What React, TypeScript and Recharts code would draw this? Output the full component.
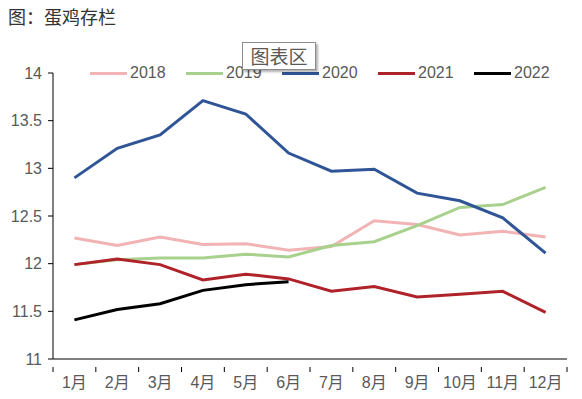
import * as React from "react";
import { LineChart, Line, XAxis, YAxis } from "recharts";

const months = ["1月", "2月", "3月", "4月", "5月", "6月", "7月", "8月", "9月", "10月", "11月", "12月"];
const y2018 = [12.27, 12.19, 12.28, 12.2, 12.21, 12.14, 12.18, 12.45, 12.41, 12.3, 12.34, 12.28];
const y2019 = [11.99, 12.04, 12.06, 12.06, 12.1, 12.07, 12.19, 12.23, 12.4, 12.59, 12.62, 12.8];
const y2020 = [12.9, 13.21, 13.35, 13.71, 13.57, 13.16, 12.97, 12.99, 12.74, 12.66, 12.48, 12.11];
const y2021 = [11.99, 12.05, 11.99, 11.83, 11.89, 11.84, 11.71, 11.76, 11.65, 11.68, 11.71, 11.49];
const y2022 = [11.41, 11.52, 11.58, 11.72, 11.78, 11.81];
const yTicks = [11, 11.5, 12, 12.5, 13, 13.5, 14];

const series = [
  { key: "2018", values: y2018, color: "#F2B3B5" },
  { key: "2019", values: y2019, color: "#A9D18E" },
  { key: "2020", values: y2020, color: "#2F5597" },
  { key: "2021", values: y2021, color: "#B0222A" },
  { key: "2022", values: y2022, color: "#000000" },
];

const data = months.map((m, i) => {
  const row: Record<string, string | number | undefined> = { month: m };
  series.forEach((s) => {
    row[s.key] = s.values[i];
  });
  return row;
});

const W = 582;
const H = 399;
const MARGIN = { top: 73, right: 15, bottom: 0, left: 0 };
const Y_WIDTH = 53;
const X_HEIGHT = 40;
const BAND = (W - MARGIN.left - MARGIN.right - Y_WIDTH) / months.length;
const FONT = '"Liberation Sans", Arial, "Noto Sans CJK SC", sans-serif';
const TEXT = "#595959";

function MonthTick(props: any) {
  const { x, y, payload, index } = props;
  const last = index === months.length - 1;
  return (
    <g>
      <line x1={x - BAND / 2} x2={x - BAND / 2} y1={y} y2={y + 5} stroke="#000" />
      {last && <line x1={x + BAND / 2} x2={x + BAND / 2} y1={y} y2={y + 5} stroke="#000" />}
      <text x={x} y={y + 21} textAnchor="middle" fill={TEXT} fontSize={16} fontFamily={FONT}>
        {payload.value}
      </text>
    </g>
  );
}

function LegendRow() {
  return (
    <div
      style={{
        position: "absolute",
        left: 90,
        top: 64,
        display: "flex",
        fontFamily: FONT,
        fontSize: 16,
        color: TEXT,
      }}
    >
      {series.map((s) => (
        <div key={s.key} style={{ display: "flex", alignItems: "center", width: 96 }}>
          <div style={{ width: 37, height: 3, background: s.color, marginRight: 3 }} />
          <span>{s.key}</span>
        </div>
      ))}
    </div>
  );
}

export default function App() {
  return (
    <div style={{ position: "absolute", left: 0, top: 0, width: W, height: H, background: "#fff" }}>
      <div
        style={{
          position: "absolute",
          left: 8,
          top: 3,
          fontSize: 18,
          color: "#333",
          fontFamily: '"Noto Sans CJK SC", sans-serif',
        }}
      >
        图：蛋鸡存栏
      </div>
      <LineChart width={W} height={H} data={data} margin={MARGIN}>
        <XAxis
          dataKey="month"
          height={X_HEIGHT}
          axisLine={{ stroke: "#000" }}
          tickLine={false}
          tick={<MonthTick />}
          interval={0}
          padding={{ left: BAND / 2, right: BAND / 2 }}
        />
        <YAxis
          width={Y_WIDTH}
          domain={[11, 14]}
          ticks={yTicks}
          axisLine={{ stroke: "#000" }}
          tickLine={{ stroke: "#000" }}
          tickSize={5}
          tickMargin={6}
          tick={{ fill: TEXT, fontSize: 16, fontFamily: FONT }}
        />
        {series.map((s) => (
          <Line
            key={s.key}
            dataKey={s.key}
            stroke={s.color}
            strokeWidth={3}
            dot={false}
            type="linear"
            isAnimationActive={false}
          />
        ))}
      </LineChart>
      <LegendRow />
      <div
        style={{
          position: "absolute",
          left: 242,
          top: 42,
          width: 72,
          height: 26,
          border: "1px solid #8c8c8c",
          background: "#fff",
          boxShadow: "2px 2px 2px rgba(0,0,0,0.3)",
          fontSize: 19,
          color: TEXT,
          fontFamily: '"Noto Sans CJK SC", sans-serif',
          textAlign: "center",
          lineHeight: "26px",
        }}
      >
        图表区
      </div>
    </div>
  );
}
